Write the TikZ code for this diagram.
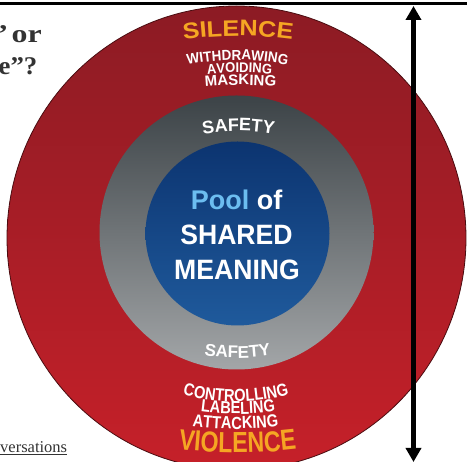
\documentclass[tikz,border=0pt]{standalone}
\usepackage{fontspec}
\usetikzlibrary{decorations.text,arrows.meta}
\newfontfamily\hvN{Liberation Sans}
\newfontfamily\hvC[FakeStretch=0.84]{Liberation Sans}
\newfontfamily\hvA[FakeStretch=0.8]{Liberation Sans}
\newfontfamily\hvW[FakeStretch=1.12]{Liberation Sans}
\newfontfamily\hvM[FakeStretch=0.93]{Liberation Sans}
\newfontfamily\hvP[FakeStretch=0.95]{Liberation Sans}
\newfontfamily\srfW[FakeStretch=1.25]{Liberation Serif}
\newfontfamily\srfN[FakeStretch=1.05]{Liberation Serif}
\newfontfamily\srf{Liberation Serif}
\definecolor{redtop}{HTML}{8C1B24}
\definecolor{redbot}{HTML}{C62029}
\definecolor{redline}{HTML}{4A0C10}
\definecolor{graytop}{HTML}{3C4347}
\definecolor{graybot}{HTML}{A3A6A8}
\definecolor{bluetop}{HTML}{0C3470}
\definecolor{bluebot}{HTML}{1F5A9C}
\definecolor{gold}{HTML}{F5A623}
\definecolor{poolblue}{HTML}{6CBDF0}
\definecolor{ink}{HTML}{333333}
\newcommand\fSil{\hvW\bfseries\fontsize{22.5}{22.5}\selectfont\color{gold}}
\newcommand\fVio{\hvA\bfseries\fontsize{29}{29}\selectfont\color{gold}}
\newcommand\fWd{\hvM\bfseries\fontsize{14.5}{14.5}\selectfont\color{white}}
\newcommand\fAv{\hvM\bfseries\fontsize{14}{14}\selectfont\color{white}}
\newcommand\fMa{\hvN\bfseries\fontsize{15}{15}\selectfont\color{white}}
\newcommand\fSafA{\hvN\bfseries\fontsize{18}{18}\selectfont\color{white}}
\newcommand\fSafB{\hvN\bfseries\fontsize{17}{17}\selectfont\color{white}}
\newcommand\fCtl{\hvC\bfseries\fontsize{17.5}{17.5}\selectfont\color{white}}
\begin{document}
\begin{tikzpicture}[x=1pt,y=1pt,
  arctext/.style={decorate, decoration={text along path, text align=center, text={#1}}},
  midtext/.style={anchor=base, inner sep=0pt, text=white, font=\hvP\bfseries\fontsize{28}{28}\selectfont},
  sidetext/.style={anchor=base east, inner sep=0pt, text=ink}]
\useasboundingbox (0,0) rectangle (467,462);
\fill[white] (0,0) rectangle (467,462);
% rings
\shade[top color=redtop, bottom color=redbot] (236.5,224) ellipse [x radius=229.5, y radius=232];
\draw[redline, line width=0.8pt] (236.5,224) ellipse [x radius=229.5, y radius=232];
\shade[top color=graytop, bottom color=graybot] (236.5,229.5) circle [radius=137];
\shade[top color=bluetop, bottom color=bluebot] (237.5,228.5) circle [radius=92];
% outer ring texts
\path[arctext={|\fSil|SILENCE}] (238,26) ++(100:400) arc[start angle=100, end angle=80, radius=400];
\path[arctext={|\fWd|WITHDRAWING}] (237.5,152) ++(105:250) arc[start angle=105, end angle=75, radius=250];
\path[arctext={|\fAv|AVOIDING}] (239.5,89.3) ++(100:300) arc[start angle=100, end angle=80, radius=300];
\path[arctext={|\fMa|MASKING}] (240.5,-23) ++(100:400) arc[start angle=100, end angle=80, radius=400];
\path[arctext={|\fCtl|CONTROLLING}] (236,260.3) ++(250:200) arc[start angle=250, end angle=290, radius=200];
\path[arctext={|\fCtl|LABELING}] (238,328) ++(258:280) arc[start angle=258, end angle=282, radius=280];
\path[arctext={|\fCtl|ATTACKING}] (235.5,383) ++(260:350) arc[start angle=260, end angle=280, radius=350];
\path[arctext={|\fVio|VIOLENCE}] (237.5,509.3) ++(260:500) arc[start angle=260, end angle=280, radius=500];
% safety ring texts
\path[arctext={|\fSafA|SAFETY}] (238.5,131) ++(105:200) arc[start angle=105, end angle=75, radius=200];
\path[arctext={|\fSafB|SAFETY}] (237.5,304) ++(255:200) arc[start angle=255, end angle=285, radius=200];
% centre
\node[midtext, font=\hvN\bfseries\fontsize{27}{27}\selectfont] (pool) at (236.5,252) {{\color{poolblue}Pool} of};
\node[midtext] (shared) at (236.5,217) {SHARED};
\node[midtext] (meaning) at (237,182) {MEANING};
% left cut-off heading
\node[sidetext, font=\srfW\bfseries\fontsize{25.5}{25.5}\selectfont] (h1) at (42,419) {”\,or};
\node[sidetext, font=\srfN\bfseries\fontsize{25.5}{25.5}\selectfont] (h2) at (37.5,387) {e”?};
\node[anchor=base west, inner sep=0pt, text=ink, font=\srf\fontsize{16.5}{16.5}\selectfont] (src) at (0,9) {\underline{versations}};
% top rule and arrow
\coordinate (tl) at (0,458.5);
\coordinate (tr) at (467,458.5);
\draw[line width=2.6pt] (tl) -- (tr);
\coordinate (atop) at (413.5,456);
\coordinate (abot) at (413.5,0);
\draw[line width=4.5pt, {Triangle[width=15pt,length=14pt]}-{Triangle[width=15pt,length=14pt]}] (atop) -- (abot);
\end{tikzpicture}
\end{document}
